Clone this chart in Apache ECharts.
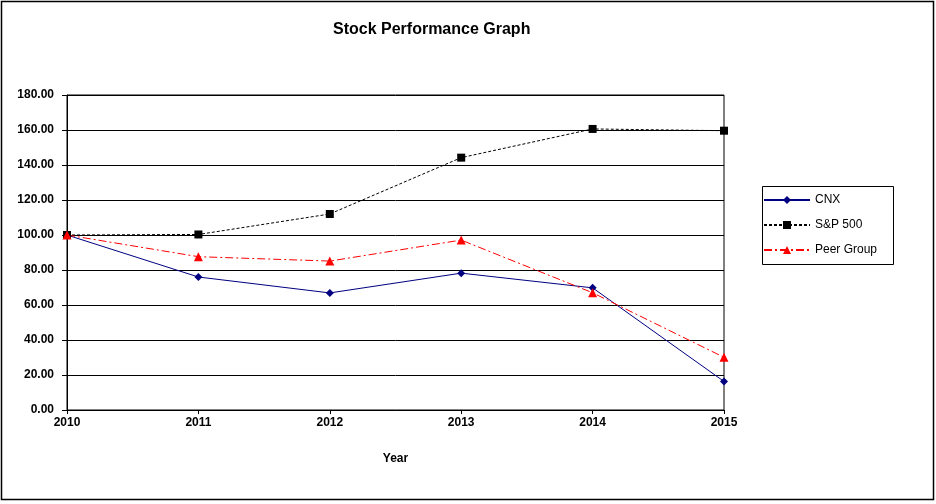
<!DOCTYPE html>
<html>
<head>
<meta charset="utf-8">
<script src="https://cdn.jsdelivr.net/npm/echarts@6/dist/echarts.min.js"></script>
<style>
html,body{margin:0;padding:0;background:#fff;}
#c{width:936px;height:504px;box-sizing:border-box;}
</style>
</head>
<body>
<div id="c"></div>
<script>
const years = ['2010','2011','2012','2013','2014','2015'];
const cnx = [100.0, 76.0, 66.9, 78.2, 69.8, 16.3];
const sp500 = [100.0, 100.3, 112.0, 144.2, 160.6, 159.6];
const peer = [100.0, 87.6, 85.1, 97.1, 67.0, 30.1];
const yTicks = [0, 20, 40, 60, 80, 100, 120, 140, 160, 180];

const chart = echarts.init(document.getElementById('c'));
const font = 'Liberation Sans, Arial, sans-serif';
chart.setOption({
  animation: false,
  backgroundColor: '#fff',
  graphic: [{
    type: 'rect', silent: true,
    shape: {x: 1.5, y: 1.5, width: 932, height: 498},
    style: {fill: 'none', stroke: '#000', lineWidth: 1.5}
  }, {
    type: 'rect', silent: true,
    shape: {x: 762.5, y: 186.5, width: 131, height: 78},
    style: {fill: 'none', stroke: '#000', lineWidth: 1}
  }],
  title: {
    text: 'Stock Performance Graph',
    left: 328, top: 17,
    textStyle: {fontFamily: font, fontSize: 16, fontWeight: 'bold', color: '#000'}
  },
  grid: {left: 67, right: 212, top: 95, bottom: 94, show: true, borderColor: '#000', borderWidth: 1, backgroundColor: 'transparent'},
  legend: {
    orient: 'vertical', left: 763, top: 194,
    padding: 0,
    itemGap: 13, itemWidth: 46, itemHeight: 10,
    textStyle: {fontFamily: font, fontSize: 12, color: '#000'},
    data: ['CNX', 'S&P 500', 'Peer Group']
  },
  xAxis: {
    type: 'category', data: years, boundaryGap: false,
    name: 'Year', nameLocation: 'middle', nameGap: 43,
    nameTextStyle: {fontFamily: font, fontSize: 12, fontWeight: 'bold', color: '#000'},
    axisLine: {lineStyle: {color: '#000', width: 1}},
    axisTick: {show: true, length: 4, inside: false, lineStyle: {color: '#000'}},
    axisLabel: {fontFamily: font, fontSize: 12, fontWeight: 'bold', color: '#000', margin: 7},
    splitLine: {show: false}
  },
  yAxis: {
    type: 'value', min: 0, max: 180, interval: 20,
    axisLine: {show: true, lineStyle: {color: '#000'}},
    axisTick: {show: true, length: 5, lineStyle: {color: '#000'}},
    axisLabel: {fontFamily: font, fontSize: 12, fontWeight: 'bold', color: '#000', margin: 13,
      formatter: v => v.toFixed(2)},
    splitLine: {show: true, lineStyle: {color: '#000', width: 1}}
  },
  series: [
    {name: 'CNX', type: 'line', data: cnx, symbol: 'diamond', symbolSize: 8,
      itemStyle: {color: '#000080'}, lineStyle: {color: '#000080', width: 1}},
    {name: 'S&P 500', type: 'line', data: sp500, symbol: 'rect', symbolSize: 8,
      itemStyle: {color: '#000'}, lineStyle: {color: '#000', width: 1, type: [3, 2]}},
    {name: 'Peer Group', type: 'line', data: peer, symbol: 'triangle', symbolSize: 9,
      itemStyle: {color: '#ff0000'}, lineStyle: {color: '#ff0000', width: 1, type: [8, 3, 2, 3]}}
  ]
});
</script>
</body>
</html>
